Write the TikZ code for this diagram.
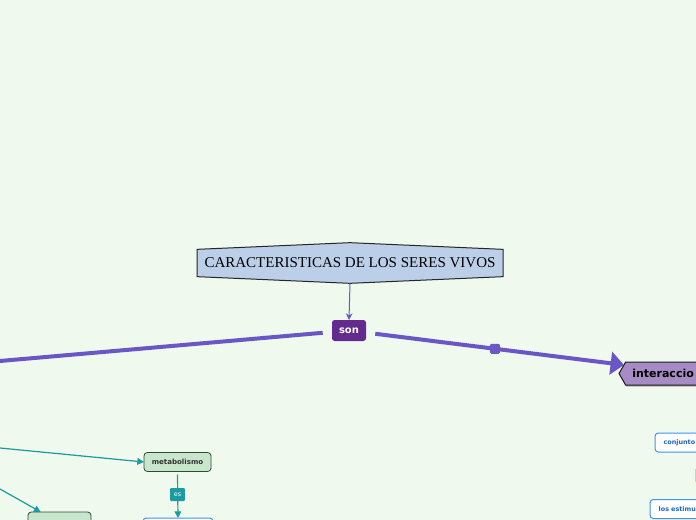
\documentclass[tikz,border=0pt]{standalone}
\usepackage{fontspec}
\setmainfont{Liberation Serif}
\newfontfamily\mapfont{DejaVu Sans}
\usetikzlibrary{arrows.meta,shapes.symbols,shadows}
\definecolor{mapbg}{RGB}{240,249,237}
\definecolor{titleblue}{RGB}{188,207,232}
\definecolor{linkpurple}{RGB}{106,86,196}
\definecolor{sonpurple}{RGB}{100,43,142}
\definecolor{lavender}{RGB}{167,139,196}
\definecolor{linkteal}{RGB}{26,155,160}
\definecolor{leafgreen}{RGB}{200,230,204}
\definecolor{leafborder}{RGB}{46,74,58}
\definecolor{topicblue}{RGB}{58,150,240}
\definecolor{topictext}{RGB}{30,100,200}
\definecolor{peach}{RGB}{233,198,164}
\begin{document}
\begin{tikzpicture}[x=0.75pt,y=-0.75pt,inner sep=0pt,outer sep=0pt,
titlebox/.style={draw=black!85,fill=titleblue,line width=0.75pt,signal,signal to=north and south,signal pointer angle=175,minimum width=229.5pt,minimum height=30pt,font=\fontsize{11.25}{13}\selectfont},
sonbox/.style={fill=sonpurple,rounded corners=2pt,minimum width=25.5pt,minimum height=15.75pt,text=white,font=\mapfont\bfseries\fontsize{7.5}{9}\selectfont},
mainbox/.style={draw=black!90,fill=lavender,line width=0.75pt,signal,signal to=west,signal pointer angle=120,minimum height=17.25pt,text width=90pt,inner xsep=5pt,align=left,font=\mapfont\bfseries\fontsize{8.25}{10}\selectfont,drop shadow={shadow xshift=0.6pt,shadow yshift=-1.2pt,fill=black!60}},
leafbox/.style={draw=leafborder,fill=leafgreen,rounded corners=2.5pt,line width=0.6pt,minimum height=14.25pt,font=\mapfont\bfseries\fontsize{5.3}{6}\selectfont,text=black!80},
topicbox/.style={draw=topicblue,fill=white,rounded corners=2.5pt,line width=0.75pt,minimum height=14.25pt,text width=60pt,inner xsep=6.5pt,align=left,text=topictext,font=\mapfont\bfseries\fontsize{4.8}{6}\selectfont},
emptytopic/.style={draw=topicblue,fill=white,rounded corners=2.5pt,line width=0.75pt,minimum height=14.25pt},
eslabel/.style={fill=linkteal,rounded corners=0.8pt,minimum width=11pt,minimum height=9.75pt,text=white,font=\mapfont\fontsize{4.8}{6}\selectfont},
bigline/.style={linkpurple,line width=3pt},
thinline/.style={linkpurple,line width=0.75pt,-{Stealth[length=5pt,width=5pt]}},
tealline/.style={linkteal,line width=0.9pt,-{Triangle[length=5pt,width=5pt]}}]
\useasboundingbox (0,0) rectangle (696,520);
\fill[mapbg] (0,0) rectangle (696,520);
\clip (0,0) rectangle (696,520);
% title and son
\draw (350,263) node[titlebox] (title) {CARACTERISTICAS DE LOS SERES VIVOS};
\draw (349,330.5) node[sonbox] (son) {son};
\draw (619,373.5) node[mainbox,anchor=west] (inter) {interaccio};
\draw[thinline] (title.south) -- (son.north);
% free ends off the left edge
\coordinate (leftend) at (0,361);
\coordinate (tealA) at (0,448);
\coordinate (tealB) at (0,489);
\draw[bigline,shorten <=7pt] (son) -- (leftend);
\draw[bigline,shorten <=7pt,-{Triangle[length=10pt,width=17pt]}] (son) -- (inter)
  node[pos=0.5,fill=linkpurple,rounded corners=1pt,minimum size=7.5pt] (mark) {};
% right side topics
\draw (655,442.5) node[topicbox,anchor=west] (conj) {conjunto};
\draw (650,509) node[topicbox,anchor=west] (estim) {los estimu};
\fill[peach] (695,469) rectangle (698,482);
% left side leaves
\draw (177.5,462) node[leafbox,minimum width=50.25pt] (metab) {metabolismo};
\draw (28,512) node[leafbox,anchor=north west,minimum width=47.25pt,minimum height=15pt] (leafB) {};
\draw (178,518) node[emptytopic,anchor=north,minimum width=52.5pt] (metabdef) {};
\draw[tealline] (tealA) -- (metab.west);
\draw[tealline] (tealB) -- (leafB.152);
\draw[tealline] (metab.south) ++(0,3) -- (metabdef.north);
\draw (177.5,494.5) node[eslabel] (es) {es};
\end{tikzpicture}
\end{document}
